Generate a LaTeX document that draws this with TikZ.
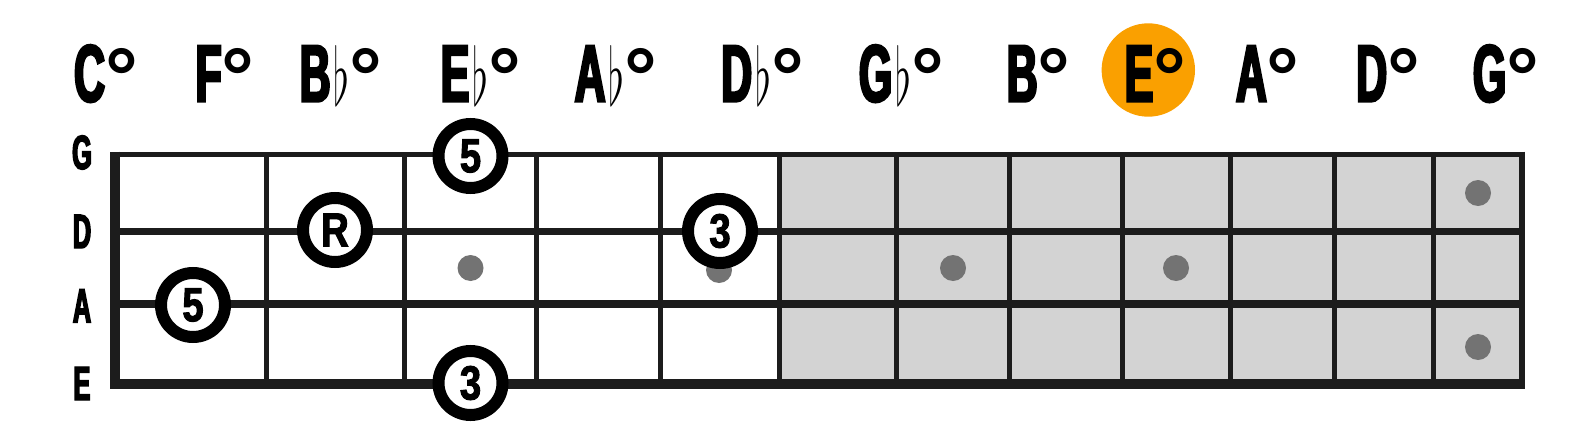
\documentclass[tikz,border=0pt]{standalone}
\usepackage{fontspec}
\usepackage{graphicx}
\newfontfamily\lblfont[FakeStretch=0.53,FakeBold=3]{Liberation Sans}
\newfontfamily\numfont[FakeStretch=0.8,FakeBold=2]{Liberation Sans}
\newfontfamily\degfont{Liberation Sans}
\definecolor{ink}{RGB}{28,28,28}
\definecolor{fretgray}{RGB}{211,211,211}
\definecolor{dotgray}{RGB}{115,115,115}
\definecolor{hlorange}{RGB}{250,160,0}
\newcommand\fl{\hspace{3pt}\raisebox{-4pt}{\resizebox{16pt}{60pt}{$\flat$}}}
\newcommand\dg{\hspace{0pt}{\degfont\bfseries\fontsize{82}{82}\selectfont\raisebox{-4pt}{°}}}
\begin{document}
\begin{tikzpicture}[x=1pt,y=-1pt,
  toplbl/.style={anchor=base,inner sep=0pt,text=black,font=\lblfont\bfseries\fontsize{81}{81}\selectfont},
  strlbl/.style={anchor=base,inner sep=0pt,text=black,font=\lblfont\bfseries\fontsize{48}{48}\selectfont},
  marker/.style={circle,draw=black,line width=12pt,fill=white,minimum size=64pt,inner sep=0pt,text=black,font=\numfont\bfseries\fontsize{48}{48}\selectfont},
  fretdot/.style={circle,fill=dotgray,minimum size=26pt,inner sep=0pt},
  hl/.style={circle,fill=hlorange,minimum size=93.4pt,inner sep=0pt},
  str/.style={ink},
  fret/.style={ink,line width=5pt}]
\useasboundingbox (0,0) rectangle (1595,428);
% highlight
\node[hl] (hilite) at (1148.3,70) {};
% chord labels
\node[toplbl] (c1) at (106,101.5) {C\dg};
\node[toplbl] (c2) at (225,101.5) {F\dg};
\node[toplbl] (c3) at (341,101.5) {B\fl\dg};
\node[toplbl] (c4) at (481,101.5) {E\fl\dg};
\node[toplbl] (c5) at (616,101.5) {A\fl\dg};
\node[toplbl] (c6) at (762.5,101.5) {D\fl\dg};
\node[toplbl] (c7) at (901.5,101.5) {G\fl\dg};
\node[toplbl] (c8) at (1038.5,101.5) {B\dg};
\node[toplbl] (c9) at (1155.3,101.5) {E\dg};
\node[toplbl] (c10) at (1267.8,101.5) {A\dg};
\node[toplbl] (c11) at (1388,101.5) {D\dg};
\node[toplbl] (c12) at (1506,101.5) {G\dg};
% string labels
\node[strlbl] (sG) at (82,169) {G};
\node[strlbl] (sD) at (82,248) {D};
\node[strlbl] (sA) at (82,322.5) {A};
\node[strlbl] (sE) at (82,400) {E};
% fretboard
\fill[fretgray] (779,154) rectangle (1522,384.3);
\foreach \x in {266,404.5,536.5,660,779,896,1009.5,1122,1230,1334,1433}
  \draw[fret] (\x,154) -- (\x,384);
\draw[str,line width=5pt] (110,154.2) -- (1525,154.2);
\draw[str,line width=6.7pt] (110,231.7) -- (1525,231.7);
\draw[str,line width=8.3pt] (110,304.2) -- (1525,304.2);
\draw[str,line width=10pt] (110,384.3) -- (1525,384.3);
\draw[ink,line width=10pt] (115,151.7) -- (115,389.3);
\draw[ink,line width=6pt] (1522,151.7) -- (1522,389.3);
% inlay dots
\node[fretdot] (d1) at (470.5,268) {};
\node[fretdot] (d2) at (719,270) {};
\node[fretdot] (d3) at (953,268) {};
\node[fretdot] (d4) at (1176,268) {};
\node[fretdot] (d5) at (1478,193) {};
\node[fretdot] (d6) at (1478,347) {};
% chord tones
\node[marker] (m1) at (470.5,156) {5};
\node[marker] (m2) at (335,230) {R};
\node[marker] (m3) at (193,305) {5};
\node[marker] (m4) at (470.5,383) {3};
\node[marker] (m5) at (720,231) {3};
\end{tikzpicture}
\end{document}
